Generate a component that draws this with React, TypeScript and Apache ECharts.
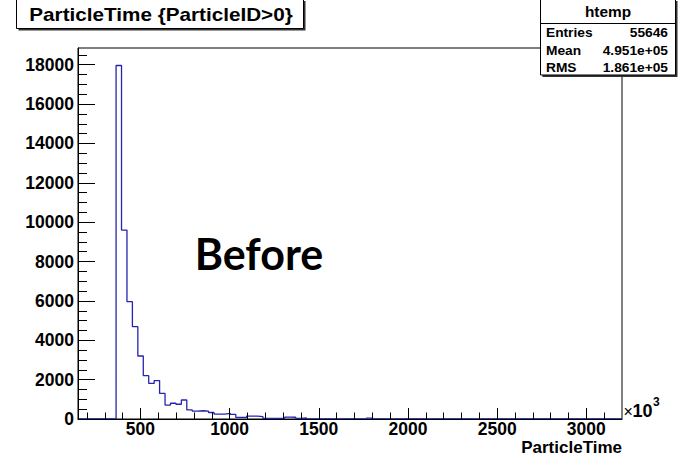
import React, { useEffect, useRef } from 'react';
import * as echarts from 'echarts';

// Histogram binning (units of 10^3)
const binStart = 150;
const binWidth = 30.5;
const binCounts = [
  0, 0, 0, 0, 0, 0, 0, 17960, 9600, 5960,
  4690, 3200, 2200, 1810, 1950, 1300, 710, 800, 750, 965,
  460, 400, 420, 400, 330, 250, 250, 285, 240, 85,
  85, 150, 150, 120, 35, 35, 35, 35, 100, 90,
  35, 50, 0, 0, 0, 0, 0, 0, 0, 0,
  0, 0, 0, 40, 0, 0, 0, 0, 0, 0,
  0, 0, 0, 0, 0, 0, 0, 0, 0, 0,
  0, 0, 0, 0, 0, 0, 0, 0, 0, 0,
  0, 0, 0, 0, 0, 0, 0, 0, 0, 0,
  0, 0, 0, 0, 0, 0, 0, 0, 0, 0,
];
const xMin = 150;
const xMax = 3200;
const yMax = 18850;

const xMajorTicks = [500, 1000, 1500, 2000, 2500, 3000];
const xMinorTicks = [200, 300, 400, 600, 700, 800, 900, 1100, 1200, 1300, 1400, 1600, 1700, 1800, 1900, 2100, 2200, 2300, 2400, 2600, 2700, 2800, 2900, 3100];
const yMajorTicks = [0, 2000, 4000, 6000, 8000, 10000, 12000, 14000, 16000, 18000];
const yMinorTicks = [500, 1000, 1500, 2500, 3000, 3500, 4500, 5000, 5500, 6500, 7000, 7500, 8500, 9000, 9500, 10500, 11000, 11500, 12500, 13000, 13500, 14500, 15000, 15500, 16500, 17000, 17500, 18500];

const titleText = 'ParticleTime {ParticleID>0}';
const statsTitle = 'htemp';
const statsLabels = ['Entries', 'Mean', 'RMS'];
const statsValues = ['55646', '4.951e+05', '1.861e+05'];
const xAxisTitle = 'ParticleTime';
const overlayText = 'Before';

const FONT = "'Liberation Sans', Arial, Helvetica, sans-serif";
const LINE = '#2424b0';

export default function App() {
  const ref = useRef<HTMLDivElement>(null);
  useEffect(() => {
    const chart = echarts.init(ref.current!, null, { renderer: 'svg' });

    const stepData: number[][] = binCounts.map((v, k) => [binStart + k * binWidth, v]);
    stepData.push([binStart + binCounts.length * binWidth, 0]);

    const rowYs = [33, 51, 68];
    const statsGraphics: any[] = [];
    statsLabels.forEach((lab, i) => {
      statsGraphics.push({
        type: 'text', x: 546, y: rowYs[i], scaleX: 1.1, z: 102,
        style: { text: lab, fontFamily: FONT, fontWeight: 'bold', fontSize: 12.5, fill: '#000', textAlign: 'left', textVerticalAlign: 'middle' },
      });
      statsGraphics.push({
        type: 'text', x: 668, y: rowYs[i], scaleX: 1.1, z: 102,
        style: { text: statsValues[i], fontFamily: FONT, fontWeight: 'bold', fontSize: 12.5, fill: '#000', textAlign: 'right', textVerticalAlign: 'middle' },
      });
    });

    const plain = (v: number) => String(v);

    const option: any = {
      animation: false,
      backgroundColor: '#fff',
      grid: {
        left: 78, top: 48, right: 57, bottom: 39,
        show: true, borderColor: '#000', borderWidth: 1, backgroundColor: 'transparent',
        containLabel: false, outerBoundsMode: 'none',
      },
      xAxis: [
        {
          type: 'value', min: xMin, max: xMax, position: 'bottom', z: 10,
          axisLine: { show: true, lineStyle: { color: '#000', width: 1 } },
          axisTick: { show: true, inside: true, length: 11, customValues: xMajorTicks, lineStyle: { color: '#000', width: 1 } },
          axisLabel: { show: true, customValues: xMajorTicks, formatter: plain, margin: 1, fontFamily: FONT, fontWeight: 'bold', fontSize: 17.5, color: '#000' },
          splitLine: { show: false },
        },
        {
          type: 'value', min: xMin, max: xMax, position: 'bottom', z: 10,
          axisLine: { show: false },
          axisTick: { show: true, inside: true, length: 6.5, customValues: xMinorTicks, lineStyle: { color: '#000', width: 1 } },
          axisLabel: { show: false },
          splitLine: { show: false },
        },
      ],
      yAxis: [
        {
          type: 'value', min: 0, max: yMax, position: 'left', z: 10,
          axisLine: { show: true, lineStyle: { color: '#000', width: 1 } },
          axisTick: { show: true, inside: true, length: 17, customValues: yMajorTicks, lineStyle: { color: '#000', width: 1 } },
          axisLabel: { show: true, customValues: yMajorTicks, formatter: plain, margin: 4, fontFamily: FONT, fontWeight: 'bold', fontSize: 17.5, color: '#000' },
          splitLine: { show: false },
        },
        {
          type: 'value', min: 0, max: yMax, position: 'left', z: 10,
          axisLine: { show: false },
          axisTick: { show: true, inside: true, length: 9, customValues: yMinorTicks, lineStyle: { color: '#000', width: 1 } },
          axisLabel: { show: false },
          splitLine: { show: false },
        },
      ],
      series: [
        {
          type: 'line',
          xAxisIndex: 0,
          yAxisIndex: 0,
          step: 'end',
          symbol: 'none',
          z: 1,
          lineStyle: { color: LINE, width: 1.3 },
          data: stepData,
        },
      ],
      graphic: [
        // title box
        { type: 'rect', z: 100, shape: { x: 18.5, y: 1, width: 287, height: 29.5 }, style: { fill: '#333' } },
        { type: 'rect', z: 101, shape: { x: 16.5, y: -1, width: 287, height: 29.5 }, style: { fill: '#fff', stroke: '#000', lineWidth: 1 } },
        {
          type: 'text', x: 161, y: 15, scaleX: 1.15, z: 102,
          style: { text: titleText, fontFamily: FONT, fontWeight: 'bold', fontSize: 18, fill: '#000', textAlign: 'center', textVerticalAlign: 'middle' },
        },
        // stats box
        { type: 'rect', z: 100, shape: { x: 542.5, y: 1, width: 135, height: 76 }, style: { fill: '#333' } },
        { type: 'rect', z: 101, shape: { x: 540.5, y: -1, width: 135, height: 76 }, style: { fill: '#fff', stroke: '#000', lineWidth: 1 } },
        { type: 'line', z: 102, shape: { x1: 540.5, y1: 23.5, x2: 675.5, y2: 23.5 }, style: { stroke: '#000', lineWidth: 1 } },
        {
          type: 'text', x: 608, y: 12, scaleX: 1.1, z: 102,
          style: { text: statsTitle, fontFamily: FONT, fontWeight: 'bold', fontSize: 14, fill: '#000', textAlign: 'center', textVerticalAlign: 'middle' },
        },
        ...statsGraphics,
        // x axis title
        {
          type: 'text', x: 622, y: 447.5, z: 102,
          style: { text: xAxisTitle, fontFamily: FONT, fontWeight: 'bold', fontSize: 17, fill: '#000', textAlign: 'right', textVerticalAlign: 'middle' },
        },
        // x10^3 exponent
        {
          type: 'text', x: 623.5, y: 411, z: 102,
          style: { text: '×', fontFamily: FONT, fontWeight: 'normal', fontSize: 16, fill: '#000', textAlign: 'left', textVerticalAlign: 'middle' },
        },
        {
          type: 'text', x: 632.5, y: 410.5, z: 102,
          style: { text: '10', fontFamily: FONT, fontWeight: 'bold', fontSize: 18, fill: '#000', textAlign: 'left', textVerticalAlign: 'middle' },
        },
        {
          type: 'text', x: 653, y: 401.5, z: 102,
          style: { text: '3', fontFamily: FONT, fontWeight: 'bold', fontSize: 12, fill: '#000', textAlign: 'left', textVerticalAlign: 'middle' },
        },
        // overlay annotation
        {
          type: 'text', x: 259, y: 253, z: 102,
          style: { text: overlayText, fontFamily: "Lato, 'Open Sans', sans-serif", fontWeight: 'bold', fontSize: 43, fill: '#000', textAlign: 'center', textVerticalAlign: 'middle' },
        },
      ],
    };

    chart.setOption(option);
    return () => chart.dispose();
  }, []);

  return (
    <div
      ref={ref}
      style={{ position: 'fixed', left: 0, top: 0, width: 679, height: 458, background: '#fff' }}
    />
  );
}
